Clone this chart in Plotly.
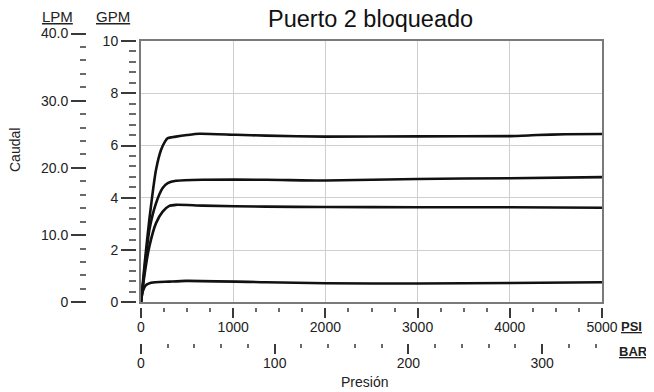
import plotly.graph_objects as go

WIN_W, WIN_H = 654, 392
BODY = 8  # page body margin of the html page
W, H = WIN_W - BODY, WIN_H - BODY
FONT = "Liberation Sans, Arial, sans-serif"

# ---------------- data ----------------
psi_top = [0, 40, 90, 163, 217, 260, 290, 380, 500, 632, 1030, 1356, 2000, 3000, 4000, 4300, 4600, 5000]
gpm_top = [0, 1.5, 3.15, 5.07, 5.83, 6.15, 6.28, 6.34, 6.40, 6.45, 6.41, 6.38, 6.34, 6.35, 6.36, 6.40, 6.43, 6.44]

psi_mid = [0, 40, 90, 163, 235, 290, 380, 667, 1356, 2000, 3000, 4000, 5000]
gpm_mid = [0, 1.3, 2.76, 3.79, 4.37, 4.56, 4.65, 4.69, 4.69, 4.66, 4.72, 4.75, 4.79]

psi_low = [0, 40, 90, 163, 235, 307, 380, 667, 1356, 2000, 3000, 4000, 5000]
gpm_low = [0, 1.1, 2.13, 3.03, 3.47, 3.69, 3.73, 3.70, 3.66, 3.65, 3.64, 3.64, 3.62]

psi_bot = [0, 18, 54, 108, 307, 488, 1356, 2000, 3000, 4000, 5000]
gpm_bot = [0, 0.41, 0.66, 0.75, 0.79, 0.82, 0.77, 0.73, 0.72, 0.74, 0.77]

series = [(psi_top, gpm_top), (psi_mid, gpm_mid), (psi_low, gpm_low), (psi_bot, gpm_bot)]

psi_range = [0, 5000]
bar_range = [0, 5000 / 14.5038]
gpm_range = [0, 10]
lpm_range = [0, 40]

psi_step, psi_minor = 1000, 250
bar_step, bar_minor = 100, 20
gpm_step, gpm_minor = 2, 0.4
lpm_ticks = [0, 10, 20, 30, 40]
lpm_ticktext = ["0", "10.0", "20.0", "30.0", "40.0"]
lpm_minor_ticks = [2, 4, 6, 8, 12, 14, 16, 18, 22, 24, 26, 28, 32, 34, 36, 38]

title_line1 = "Compensación típica"
title_line2 = "Puerto 2 bloqueado"

# ---------------- layout helpers (window pixels -> paper fractions) ----------------
def px_x(x):
    return (x - BODY) / W

def px_y(y):
    return (WIN_H - y) / H

x_dom = [px_x(141), px_x(602)]
y_dom = [px_y(302.3), px_y(41)]
lpm_dom = [px_y(302.3), px_y(33.5)]

fig = go.Figure()
for xs, ys in series:
    fig.add_trace(go.Scatter(x=xs, y=ys, mode="lines", xaxis="x", yaxis="y",
                             line=dict(color="#111111", width=2.6, shape="spline", smoothing=0.6),
                             hoverinfo="skip", showlegend=False))
# empty traces binding the tick scales
fig.add_trace(go.Scatter(x=[None], y=[None], xaxis="x2", yaxis="y", showlegend=False, hoverinfo="skip"))
fig.add_trace(go.Scatter(x=[None], y=[None], xaxis="x3", yaxis="y", showlegend=False, hoverinfo="skip"))
fig.add_trace(go.Scatter(x=[None], y=[None], xaxis="x", yaxis="y2", showlegend=False, hoverinfo="skip"))
fig.add_trace(go.Scatter(x=[None], y=[None], xaxis="x4", yaxis="y3", showlegend=False, hoverinfo="skip"))

tickfont = dict(family=FONT, size=14, color="#222222")
TC = "#3a3a3a"
MC = "#6a6a6a"
GRID = "#cfcfcf"
FRAME = "#7a7a7a"

fig.update_layout(
    width=W, height=H, autosize=False,
    margin=dict(l=0, r=0, t=0, b=0, pad=0, autoexpand=False),
    paper_bgcolor="white", plot_bgcolor="rgba(0,0,0,0)",
    font=dict(family=FONT, size=14, color="#222222"),
    showlegend=False,
    # main data scales: frame + grid, no ticks
    xaxis=dict(domain=x_dom, range=psi_range, anchor="y", showticklabels=False, ticks="",
               tickmode="linear", tick0=0, dtick=psi_step,
               showline=True, mirror=True, linecolor=FRAME, linewidth=1.6,
               zeroline=False, showgrid=True, gridcolor=GRID, gridwidth=1),
    yaxis=dict(domain=y_dom, range=gpm_range, anchor="x", showticklabels=False, ticks="",
               tickmode="linear", tick0=0, dtick=gpm_step,
               showline=True, mirror=True, linecolor=FRAME, linewidth=1.6,
               zeroline=False, showgrid=True, gridcolor=GRID, gridwidth=1),
    # PSI ticks
    xaxis2=dict(overlaying="x", range=psi_range, anchor="free", position=px_y(307), side="bottom",
                showline=False, zeroline=False, showgrid=False,
                tickmode="linear", tick0=0, dtick=psi_step, ticklabelstandoff=-3,
                ticks="outside", ticklen=10, tickwidth=2, tickcolor=TC, tickfont=tickfont,
                minor=dict(tickmode="linear", tick0=0, dtick=psi_minor, ticks="outside", ticklen=4,
                           tickwidth=1.5, tickcolor=MC, showgrid=False)),
    # BAR ticks
    xaxis3=dict(overlaying="x", range=bar_range, anchor="free", position=px_y(343), side="bottom",
                showline=False, zeroline=False, showgrid=False,
                tickmode="linear", tick0=0, dtick=bar_step, ticklabelstandoff=-3,
                ticks="outside", ticklen=10, tickwidth=2, tickcolor=TC, tickfont=tickfont,
                minor=dict(tickmode="linear", tick0=0, dtick=bar_minor, ticks="outside", ticklen=4,
                           tickwidth=1.5, tickcolor=MC, showgrid=False)),
    # GPM ticks
    yaxis2=dict(overlaying="y", range=gpm_range, anchor="free", position=px_x(136), side="left",
                showline=False, zeroline=False, showgrid=False,
                tickmode="linear", tick0=0, dtick=gpm_step,
                ticks="outside", ticklen=15, tickwidth=2, tickcolor=TC, tickfont=tickfont,
                minor=dict(tickmode="linear", tick0=0, dtick=gpm_minor, ticks="outside", ticklen=7,
                           tickwidth=1.5, tickcolor=MC, showgrid=False)),
    # LPM scale (own domain)
    xaxis4=dict(domain=x_dom, range=psi_range, anchor="y3", visible=False, showgrid=False),
    yaxis3=dict(domain=lpm_dom, range=lpm_range, anchor="free", position=px_x(86), side="left",
                showline=False, zeroline=False, showgrid=False,
                tickmode="array", tickvals=lpm_ticks, ticktext=lpm_ticktext,
                ticks="outside", ticklen=15, tickwidth=2, tickcolor=TC, tickfont=tickfont,
                minor=dict(tickmode="array", tickvals=lpm_minor_ticks, ticks="outside", ticklen=6,
                           tickwidth=1.5, tickcolor=MC, showgrid=False)),
    annotations=[
        dict(text=title_line1, xref="paper", yref="paper", x=px_x(370), y=px_y(-7),
             xanchor="center", yanchor="middle", showarrow=False,
             font=dict(family=FONT, size=23.5, color="#111111")),
        dict(text=title_line2, xref="paper", yref="paper", x=px_x(370), y=px_y(19.5),
             xanchor="center", yanchor="middle", showarrow=False,
             font=dict(family=FONT, size=23.5, color="#111111")),
        dict(text="<u>LPM</u>", xref="paper", yref="paper", x=px_x(57), y=px_y(16),
             xanchor="center", yanchor="middle", showarrow=False,
             font=dict(family=FONT, size=15, color="#222222")),
        dict(text="<u>GPM</u>", xref="paper", yref="paper", x=px_x(113), y=px_y(16),
             xanchor="center", yanchor="middle", showarrow=False,
             font=dict(family=FONT, size=15, color="#222222")),
        dict(text="<u><b>PSI</b></u>", xref="paper", yref="paper", x=px_x(619), y=px_y(326),
             xanchor="left", yanchor="middle", showarrow=False,
             font=dict(family=FONT, size=13, color="#222222")),
        dict(text="<u><b>BAR</b></u>", xref="paper", yref="paper", x=px_x(617), y=px_y(351),
             xanchor="left", yanchor="middle", showarrow=False,
             font=dict(family=FONT, size=13, color="#222222")),
        dict(text="Presión", xref="paper", yref="paper", x=px_x(364), y=px_y(382),
             xanchor="center", yanchor="middle", showarrow=False,
             font=dict(family=FONT, size=14, color="#222222")),
        dict(text="Caudal", xref="paper", yref="paper", x=px_x(15), y=px_y(150),
             xanchor="center", yanchor="middle", textangle=-90, showarrow=False,
             font=dict(family=FONT, size=14, color="#222222")),
    ],
)

fig.write_html("out.html")
